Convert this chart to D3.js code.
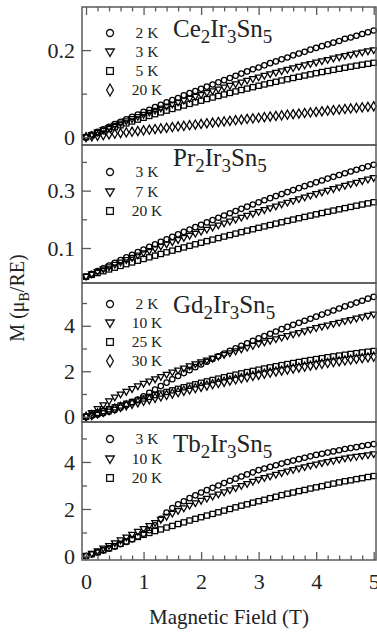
<!DOCTYPE html>
<html>
<head>
<meta charset="utf-8">
<script src="https://cdn.jsdelivr.net/npm/d3@7"></script>
<style>
  html, body { margin: 0; padding: 0; background: #fff; }
  svg text { font-family: "Liberation Serif", "Times New Roman", serif; fill: #222; }
</style>
</head>
<body>
<div id="chart"></div>
<script>
// magnetic field (T)
var field = [0, 0.1, 0.2, 0.3, 0.4, 0.5, 0.6, 0.7, 0.8, 0.9, 1.0, 1.1, 1.2, 1.3, 1.4, 1.5, 1.6, 1.7, 1.8, 1.9,
  2.0, 2.1, 2.2, 2.3, 2.4, 2.5, 2.6, 2.7, 2.8, 2.9, 3.0, 3.1, 3.2, 3.3, 3.4, 3.5, 3.6, 3.7, 3.8, 3.9,
  4.0, 4.1, 4.2, 4.3, 4.4, 4.5, 4.6, 4.7, 4.8, 4.9, 5.0];

// Ce2Ir3Sn5
var ce2K = [0, .006, .012, .018, .024, .030, .035, .041, .047, .052, .058, .063, .069, .074, .080, .085, .090, .096, .101, .106,
  .111, .116, .121, .126, .131, .136, .141, .146, .151, .156, .160, .165, .170, .174, .179, .183, .188, .192, .196, .201,
  .205, .209, .213, .217, .221, .226, .229, .233, .237, .241, .245];
var ce3K = [0, .0054, .0108, .0161, .0213, .0265, .0316, .0367, .0417, .0466, .0515, .0564, .0611, .0659, .0705, .0751, .0797, .0842, .0886, .0930,
  .0973, .1015, .1057, .1099, .1140, .1180, .1220, .1259, .1297, .1335, .1373, .1410, .1446, .1482, .1517, .1551, .1585, .1619, .1651, .1684,
  .1715, .1746, .1777, .1807, .1836, .1865, .1893, .1921, .1948, .1974, .2000];
var ce5K = [0, .0047, .0093, .0139, .0184, .0229, .0273, .0317, .0360, .0403, .0445, .0487, .0528, .0569, .0609, .0648, .0687, .0726, .0764, .0801,
  .0838, .0875, .0911, .0946, .0981, .1016, .1050, .1083, .1116, .1148, .1180, .1211, .1242, .1272, .1302, .1331, .1360, .1388, .1416, .1443,
  .1470, .1496, .1521, .1546, .1571, .1595, .1619, .1642, .1664, .1686, .1708];
var ce20K = [0, .0016, .0032, .0047, .0063, .0079, .0094, .0110, .0125, .0140, .0156, .0171, .0186, .0201, .0216, .0231, .0246, .0260, .0275, .0290,
  .0304, .0319, .0333, .0348, .0362, .0376, .0390, .0404, .0418, .0432, .0446, .0460, .0474, .0488, .0501, .0515, .0528, .0542, .0555, .0568,
  .0582, .0595, .0608, .0621, .0634, .0647, .0659, .0672, .0685, .0697, .0710];

// Pr2Ir3Sn5
var pr3K = [0, .0098, .0196, .0293, .0389, .0484, .0578, .0671, .0764, .0856, .0947, .1037, .1126, .1214, .1302, .1389, .1475, .1560, .1644, .1727,
  .1810, .1892, .1973, .2053, .2132, .2211, .2288, .2365, .2441, .2516, .2591, .2664, .2737, .2809, .2880, .2950, .3019, .3087, .3155, .3222,
  .3288, .3353, .3418, .3481, .3544, .3606, .3667, .3727, .3786, .3845, .3903];
var pr7K = [0, .0085, .0169, .0252, .0335, .0417, .0499, .0580, .0660, .0740, .0818, .0897, .0974, .1051, .1128, .1203, .1278, .1353, .1426, .1499,
  .1572, .1643, .1714, .1785, .1855, .1924, .1992, .2060, .2127, .2194, .2260, .2325, .2389, .2453, .2517, .2579, .2641, .2702, .2763, .2823,
  .2882, .2941, .2999, .3057, .3113, .3169, .3225, .3280, .3334, .3387, .3440];
var pr20K = [0, .0064, .0127, .0190, .0253, .0314, .0376, .0437, .0497, .0557, .0617, .0676, .0734, .0792, .0850, .0907, .0963, .1019, .1075, .1130,
  .1184, .1239, .1292, .1345, .1398, .1450, .1502, .1553, .1604, .1654, .1703, .1753, .1801, .1850, .1897, .1945, .1991, .2038, .2084, .2129,
  .2174, .2218, .2262, .2305, .2348, .2390, .2432, .2474, .2515, .2555, .2595];

// Gd2Ir3Sn5
var gd2K = [0, .04, .09, .15, .22, .30, .40, .51, .63, .76, .90, 1.05, 1.20, 1.35, 1.50, 1.65, 1.79, 1.92, 2.05, 2.18,
  2.30, 2.42, 2.54, 2.66, 2.78, 2.90, 3.01, 3.12, 3.23, 3.34, 3.45, 3.55, 3.65, 3.75, 3.85, 3.95, 4.04, 4.13, 4.22, 4.31,
  4.40, 4.49, 4.58, 4.67, 4.76, 4.85, 4.93, 5.02, 5.10, 5.19, 5.27];
var gd10K = [0, .17, .34, .51, .68, .85, .98, 1.10, 1.22, 1.34, 1.45, 1.55, 1.65, 1.75, 1.85, 1.95, 2.04, 2.13, 2.22, 2.31,
  2.40, 2.48, 2.56, 2.64, 2.72, 2.80, 2.88, 2.96, 3.04, 3.12, 3.20, 3.27, 3.34, 3.41, 3.48, 3.55, 3.62, 3.69, 3.76, 3.83,
  3.90, 3.96, 4.02, 4.08, 4.14, 4.20, 4.26, 4.32, 4.38, 4.44, 4.50];
var gd25K = [0, .085, .169, .252, .334, .415, .495, .573, .651, .727, .802, .876, .949, 1.021, 1.091, 1.161, 1.229, 1.297, 1.363, 1.428,
  1.492, 1.555, 1.617, 1.677, 1.737, 1.795, 1.852, 1.908, 1.963, 2.017, 2.070, 2.122, 2.172, 2.222, 2.270, 2.317, 2.363, 2.408, 2.452, 2.494,
  2.536, 2.576, 2.616, 2.654, 2.691, 2.727, 2.762, 2.796, 2.828, 2.860, 2.890];
var gd30K = [0, .074, .148, .220, .291, .362, .432, .501, .569, .636, .702, .768, .832, .896, .959, 1.021, 1.082, 1.142, 1.202, 1.260,
  1.318, 1.374, 1.430, 1.485, 1.539, 1.593, 1.645, 1.696, 1.747, 1.797, 1.846, 1.894, 1.941, 1.987, 2.032, 2.077, 2.121, 2.163, 2.205, 2.246,
  2.286, 2.326, 2.364, 2.402, 2.438, 2.474, 2.509, 2.543, 2.576, 2.609, 2.640];

// Tb2Ir3Sn5
var tb3K = [0, .07, .15, .23, .31, .40, .50, .60, .71, .83, .95, 1.10, 1.30, 1.58, 1.85, 2.04, 2.20, 2.33, 2.46, 2.58,
  2.70, 2.80, 2.90, 3.00, 3.10, 3.20, 3.29, 3.38, 3.47, 3.56, 3.65, 3.72, 3.79, 3.86, 3.93, 4.00, 4.06, 4.12, 4.18, 4.24,
  4.30, 4.35, 4.40, 4.45, 4.50, 4.55, 4.59, 4.63, 4.68, 4.72, 4.76];
var tb10K = [0, .10, .21, .32, .43, .55, .67, .79, .91, 1.03, 1.15, 1.28, 1.41, 1.54, 1.67, 1.80, 1.92, 2.03, 2.14, 2.25,
  2.35, 2.44, 2.53, 2.62, 2.71, 2.80, 2.89, 2.98, 3.07, 3.16, 3.25, 3.32, 3.39, 3.46, 3.53, 3.60, 3.66, 3.72, 3.78, 3.84,
  3.90, 3.95, 4.00, 4.05, 4.10, 4.15, 4.19, 4.22, 4.26, 4.29, 4.33];
var tb20K = [0, .08, .16, .25, .33, .42, .52, .62, .72, .81, .90, .98, 1.06, 1.13, 1.21, 1.28, 1.36, 1.43, 1.51, 1.58,
  1.65, 1.72, 1.79, 1.86, 1.93, 2.00, 2.07, 2.14, 2.20, 2.27, 2.33, 2.39, 2.46, 2.52, 2.59, 2.65, 2.70, 2.76, 2.81, 2.87,
  2.92, 2.97, 3.03, 3.08, 3.13, 3.18, 3.22, 3.27, 3.31, 3.36, 3.40];

// tick values
var xMajor = [0, 1, 2, 3, 4, 5];
var xMinor = [0.2, 0.4, 0.6, 0.8, 1.2, 1.4, 1.6, 1.8, 2.2, 2.4, 2.6, 2.8, 3.2, 3.4, 3.6, 3.8, 4.2, 4.4, 4.6, 4.8];

var panels = [
  { compound: ["Ce", "2", "Ir", "3", "Sn", "5"], top: 7, bottom: 145, domain: [-0.018, 0.299],
    major: [0, 0.2], minor: [0.1], fmt: function(d) { return d === 0 ? "0" : d3.format(".1f")(d); },
    legendY: [33, 52, 71, 90], titleY: 37,
    series: [{ t: "2 K", m: "circle", v: ce2K }, { t: "3 K", m: "tri", v: ce3K }, { t: "5 K", m: "square", v: ce5K }, { t: "20 K", m: "diamond", v: ce20K }] },
  { compound: ["Pr", "2", "Ir", "3", "Sn", "5"], top: 145, bottom: 283, domain: [-0.022, 0.459],
    major: [0.1, 0.3], minor: [0.2, 0.4], fmt: d3.format(".1f"),
    legendY: [172, 192, 211], titleY: 166,
    series: [{ t: "3 K", m: "circle", v: pr3K }, { t: "7 K", m: "tri", v: pr7K }, { t: "20 K", m: "square", v: pr20K }] },
  { compound: ["Gd", "2", "Ir", "3", "Sn", "5"], top: 283, bottom: 422, domain: [-0.23, 5.88],
    major: [0, 2, 4], minor: [1, 3, 5], fmt: d3.format("d"),
    legendY: [304, 323, 342, 361], titleY: 313,
    series: [{ t: "2 K", m: "circle", v: gd2K }, { t: "10 K", m: "tri", v: gd10K }, { t: "25 K", m: "square", v: gd25K }, { t: "30 K", m: "diamond", v: gd30K }] },
  { compound: ["Tb", "2", "Ir", "3", "Sn", "5"], top: 422, bottom: 560, domain: [-0.17, 5.7],
    major: [0, 2, 4], minor: [1, 3, 5], fmt: d3.format("d"),
    legendY: [439, 459, 478], titleY: 452,
    series: [{ t: "3 K", m: "circle", v: tb3K }, { t: "10 K", m: "tri", v: tb10K }, { t: "20 K", m: "square", v: tb20K }] }
];

var width = 377, height = 636;
var left = 82, right = 376;
var frameColor = "#5a5a5a";
var serif = "'Liberation Serif', 'Times New Roman', serif";

var svg = d3.select("#chart").append("svg")
  .attr("width", width)
  .attr("height", height);

var x = d3.scaleLinear().domain([-0.07, 5.04]).range([left, right]);

// marker shapes
function addMarker(g, kind, k) {
  if (kind === "circle") {
    g.append("circle").attr("r", 2.7 * k);
  } else if (kind === "tri") {
    g.append("path").attr("d", "M" + (-3.3 * k) + "," + (-2.3 * k) + "L" + (3.3 * k) + "," + (-2.3 * k) + "L0," + (3.4 * k) + "Z");
  } else if (kind === "square") {
    g.append("rect").attr("x", -2.6 * k).attr("y", -2.6 * k).attr("width", 5.2 * k).attr("height", 5.2 * k);
  } else {
    g.append("path").attr("d", "M0," + (-4.6 * k) + "L" + (2.6 * k) + ",0L0," + (4.6 * k) + "L" + (-2.6 * k) + ",0Z");
  }
}

panels.forEach(function(p) {
  var y = d3.scaleLinear().domain(p.domain).range([p.bottom, p.top]);
  var g = svg.append("g");

  // data markers
  p.series.forEach(function(s) {
    g.selectAll(null)
      .data(s.v)
      .enter()
      .append("g")
      .attr("transform", function(d, i) { return "translate(" + x(field[i]) + "," + y(d) + ")"; })
      .each(function() {
        var m = d3.select(this).attr("fill", "none").attr("stroke", "#000").attr("stroke-width", 1.25);
        addMarker(m, s.m, 1);
      });
  });

  // y axis, ticks inside
  var yAxis = d3.axisLeft(y).tickValues(p.major).tickSize(-9).tickPadding(7).tickFormat(p.fmt);
  var ya = g.append("g").attr("transform", "translate(" + left + ",0)").call(yAxis);
  var yMinor = g.append("g").attr("transform", "translate(" + left + ",0)")
    .call(d3.axisLeft(y).tickValues(p.minor).tickSize(-5).tickFormat(""));
  [ya, yMinor].forEach(function(a) {
    a.select(".domain").remove();
    a.selectAll("line").attr("stroke", frameColor).attr("stroke-width", 1.3);
  });
  ya.selectAll("text").style("font-size", "22px").attr("fill", "#222").style("font-family", serif);

  // legend
  p.series.forEach(function(s, i) {
    var ly = p.legendY[i];
    var m = g.append("g").attr("transform", "translate(110," + ly + ")")
      .attr("fill", "none").attr("stroke", "#111").attr("stroke-width", 1.3);
    addMarker(m, s.m, 1.3);
    g.append("text")
      .attr("x", 147)
      .attr("y", ly + 5)
      .attr("text-anchor", "middle")
      .style("font-size", "15.5px")
      .text(s.t);
  });

  // compound name with subscripts
  var tt = g.append("text").attr("x", 173).attr("y", p.titleY).style("font-size", "25px");
  p.compound.forEach(function(part, j) {
    var sub = j % 2 === 1;
    tt.append("tspan")
      .attr("dy", sub ? 6 : (j === 0 ? 0 : -6))
      .style("font-size", sub ? "19px" : "25px")
      .text(part);
  });

  // panel frame
  g.append("rect")
    .attr("x", left)
    .attr("y", p.top)
    .attr("width", right - left)
    .attr("height", p.bottom - p.top)
    .attr("fill", "none")
    .attr("stroke", frameColor)
    .attr("stroke-width", 1.5);
});

// top ticks on first panel, bottom axis on last panel
var topY = panels[0].top, botY = panels[panels.length - 1].bottom;
var axes = [
  svg.append("g").attr("transform", "translate(0," + topY + ")").call(d3.axisTop(x).tickValues(xMajor).tickSize(-8).tickFormat("")),
  svg.append("g").attr("transform", "translate(0," + topY + ")").call(d3.axisTop(x).tickValues(xMinor).tickSize(-4.5).tickFormat("")),
  svg.append("g").attr("transform", "translate(0," + botY + ")").call(d3.axisBottom(x).tickValues(xMajor).tickSize(-8).tickPadding(13).tickFormat(d3.format("d"))),
  svg.append("g").attr("transform", "translate(0," + botY + ")").call(d3.axisBottom(x).tickValues(xMinor).tickSize(-4.5).tickFormat(""))
];
axes.forEach(function(a) {
  a.select(".domain").remove();
  a.selectAll("line").attr("stroke", frameColor).attr("stroke-width", 1.3);
  a.selectAll("text").style("font-size", "22px").attr("fill", "#222").style("font-family", serif);
});

// axis titles
svg.append("text")
  .attr("x", 229)
  .attr("y", 624)
  .attr("text-anchor", "middle")
  .style("font-size", "21px")
  .text("Magnetic Field (T)");

var yl = svg.append("text")
  .attr("transform", "translate(24,298) rotate(-90)")
  .attr("text-anchor", "middle")
  .style("font-size", "20px");
yl.append("tspan").text("M (\u03bc");
yl.append("tspan").attr("dy", 5).style("font-size", "14px").text("B");
yl.append("tspan").attr("dy", -5).text("/RE)");
</script>
</body>
</html>
